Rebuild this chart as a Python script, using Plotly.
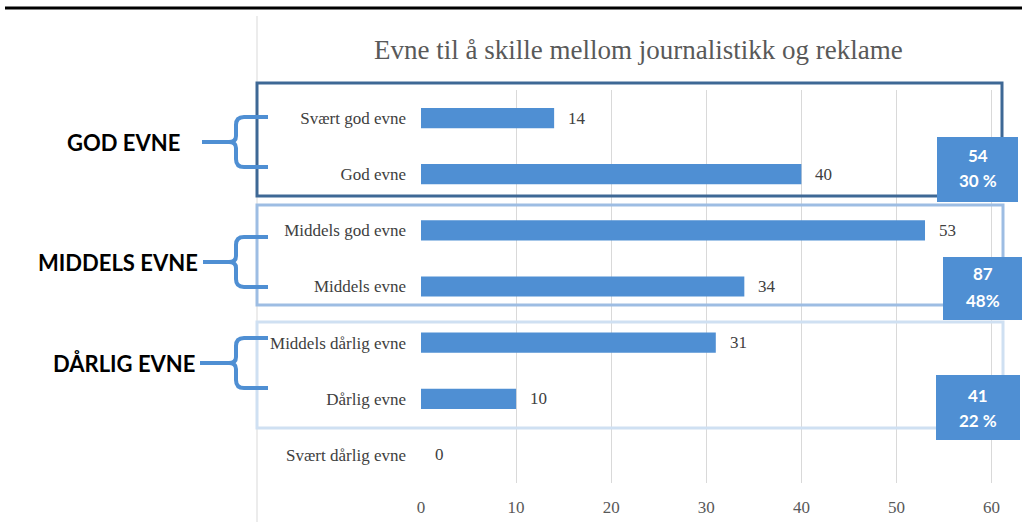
import plotly.graph_objects as go

# --- data -------------------------------------------------------------
categories = [
    "Svært god evne",
    "God evne",
    "Middels god evne",
    "Middels evne",
    "Middels dårlig evne",
    "Dårlig evne",
    "Svært dårlig evne",
]
values = [14, 40, 53, 34, 31, 10, 0]
x_ticks = [0, 10, 20, 30, 40, 50, 60]

group_names = ["GOD EVNE", "MIDDELS EVNE", "DÅRLIG EVNE"]
group_members = [[0, 1], [2, 3], [4, 5]]
group_pct_labels = ["30 %", "48%", "22 %"]

# --- layout geometry (pixels) ----------------------------------------
W, H = 1022, 522
L, R, T, B = 421, 29, 90, 39
PW, PH = W - L - R, H - T - B

BLUE = "#4f8fd3"
SERIF = "Liberation Serif"
SANS = "Lato"


def px(x):
    return (x - L) / PW


def py(y):
    return (H - B - y) / PH


fig = go.Figure(
    go.Bar(
        x=values,
        y=categories,
        orientation="h",
        marker=dict(color=BLUE, line=dict(width=0)),
        hoverinfo="skip",
    )
)

shapes = []
annotations = []

# heavy rule across the top of the page
shapes.append(dict(type="line", xref="paper", yref="paper",
                   x0=px(5), x1=px(1022), y0=py(8), y1=py(8),
                   line=dict(color="#000000", width=3)))
# faint chart frame on the left
shapes.append(dict(type="line", xref="paper", yref="paper",
                   x0=px(257), x1=px(257), y0=py(16), y1=py(522),
                   line=dict(color="#d9d9d9", width=1)))

# group outlines: (top, bottom, right, colour)
group_frames = [
    (83, 196, 1002, "#3e6895"),
    (205, 305, 1003, "#9dbde3"),
    (322, 428, 1003, "#cfe0f2"),
]
for top, bot, right, col in reversed(group_frames):
    shapes.append(dict(type="rect", xref="paper", yref="paper",
                       x0=px(257), x1=px(right), y0=py(bot), y1=py(top),
                       line=dict(color=col, width=3), fillcolor="rgba(0,0,0,0)"))

# summary boxes on the right: (x0, x1, y0, y1, line1 y, line2 y)
summary_boxes = [
    (937, 1018, 137, 202, 155, 180),
    (943, 1022, 257, 320, 273, 300),
    (936, 1020, 375, 440, 395, 420),
]
for (x0, x1, y0, y1, ya, yb), members, pct in zip(summary_boxes, group_members, group_pct_labels):
    shapes.append(dict(type="rect", xref="paper", yref="paper",
                       x0=px(x0), x1=px(x1), y0=py(y1), y1=py(y0),
                       line=dict(width=0), fillcolor=BLUE))
    total = sum(values[i] for i in members)
    cx = px((x0 + x1) / 2)
    for txt, yy in ((str(total), ya), (pct, yb)):
        annotations.append(dict(xref="paper", yref="paper", x=cx, y=py(yy),
                                text=txt, showarrow=False,
                                xanchor="center", yanchor="middle",
                                font=dict(family=SANS, size=17, color="white", weight="bold")))

# braces and group names on the left: (top, mid, bottom, stub start, label right edge)
braces = [
    (117, 142, 167, 202, 182),
    (237, 262, 287, 203, 200),
    (338, 363, 388, 200, 197),
]


def brace_path(top, mid, bot, stub):
    pts = [
        ("M", [(268, top)]),
        ("L", [(244, top)]),
        ("Q", [(236, top), (236, top + 8)]),
        ("L", [(236, mid - 6)]),
        ("Q", [(236, mid), (229, mid)]),
        ("Q", [(236, mid), (236, mid + 6)]),
        ("L", [(236, bot - 8)]),
        ("Q", [(236, bot), (244, bot)]),
        ("L", [(268, bot)]),
        ("M", [(stub, mid)]),
        ("L", [(230, mid)]),
    ]
    out = []
    for cmd, coords in pts:
        out.append(cmd + " " + " ".join(f"{px(x):.5f},{py(y):.5f}" for x, y in coords))
    return " ".join(out)


for (top, mid, bot, stub, lab_x), name in zip(braces, group_names):
    shapes.append(dict(type="path", xref="paper", yref="paper",
                       path=brace_path(top, mid, bot, stub),
                       line=dict(color=BLUE, width=4)))
    annotations.append(dict(xref="paper", yref="paper", x=px(lab_x), y=py(mid),
                            text=name, showarrow=False,
                            xanchor="right", yanchor="middle",
                            font=dict(family=SANS, size=22, color="#000000", weight="bold")))

# value labels next to each bar
for cat, v in zip(categories, values):
    annotations.append(dict(xref="x", yref="y", x=v, y=cat, text=str(v),
                            showarrow=False, xanchor="left", yanchor="middle",
                            xshift=12,
                            font=dict(family=SERIF, size=17, color="#404040")))

# chart title
annotations.append(dict(xref="paper", yref="paper", x=px(638), y=py(50),
                        text="Evne til å skille mellom journalistikk og reklame",
                        showarrow=False, xanchor="center", yanchor="middle",
                        font=dict(family=SERIF, size=27, color="#595959")))

fig.update_layout(
    width=W, height=H,
    margin=dict(l=L, r=R, t=T, b=B, pad=0),
    paper_bgcolor="white", plot_bgcolor="white",
    showlegend=False,
    bargap=0.64,
    shapes=shapes,
    annotations=annotations,
    xaxis=dict(
        range=[0, 60.15], tickvals=x_ticks, ticktext=[str(t) for t in x_ticks],
        showgrid=True, gridcolor="#d9d9d9", gridwidth=1,
        zeroline=False, showline=False, ticks="",
        ticklabelstandoff=12, automargin=False,
        tickfont=dict(family=SERIF, size=17, color="#595959"),
        fixedrange=True,
    ),
    yaxis=dict(
        categoryorder="array", categoryarray=categories,
        autorange="reversed",
        showgrid=False, zeroline=False, showline=False, ticks="",
        ticklabelstandoff=14, automargin=False,
        tickfont=dict(family=SERIF, size=17, color="#404040"),
        fixedrange=True,
    ),
)

fig.write_html("out.html")
